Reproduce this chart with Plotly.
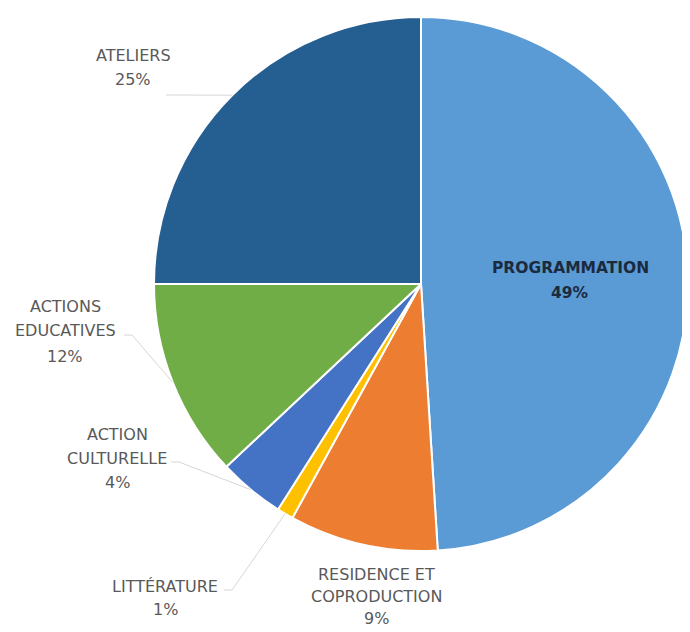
import math
import plotly.graph_objects as go

# ---- data ----
labels = ["PROGRAMMATION", "RESIDENCE ET COPRODUCTION", "LITTÉRATURE",
          "ACTION CULTURELLE", "ACTIONS EDUCATIVES", "ATELIERS"]
label_lines = [["PROGRAMMATION"], ["RESIDENCE ET", "COPRODUCTION"], ["LITTÉRATURE"],
               ["ACTION", "CULTURELLE"], ["ACTIONS", "EDUCATIVES"], ["ATELIERS"]]
values = [49, 9, 1, 4, 12, 25]

# ---- style / layout ----
colors = ["#5B9BD5", "#ED7D31", "#FFC000", "#4472C4", "#70AD47", "#255E91"]
W, H = 690, 632
OFF = 8  # page body margin offset


def px2paper(x, y):
    return (x - OFF) / W, 1 - (y - OFF) / H


# pie box in screen pixels
pie_left, pie_right, pie_top, pie_bottom = 154, 688, 17, 551
x0, y1 = px2paper(pie_left, pie_top)
x1, y0 = px2paper(pie_right, pie_bottom)
dom_x = [x0, x1]
dom_y = [y0, y1]

# label anchor (pixel) positions: centre x, first-line y, line gap
label_pos = [(570, 268, 25), (376, 574, 22), (165, 586, 23),
             (117, 434, 24), (65, 306, 25), (133, 56, 23)]
# leader-line start points (pixels) ; None = no leader
leader_start = [None, None, (224, 590), (171, 462), (124, 335), (166, 95)]
text_colors = ["#1c2a3e", "#595959", "#595959", "#595959", "#595959", "#595959"]
text_weights = ["bold", "normal", "normal", "normal", "normal", "normal"]
text_sizes = [15.5, 16, 16, 16, 16, 16]

fig = go.Figure(go.Pie(
    labels=labels, values=values, sort=False, direction="clockwise", rotation=0,
    marker=dict(colors=colors, line=dict(color="white", width=2)),
    textinfo="none", hoverinfo="label+percent",
    domain=dict(x=dom_x, y=dom_y), showlegend=False,
))

# pie geometry in screen pixels
cx = (pie_left + pie_right) / 2
cy = (pie_top + pie_bottom) / 2
r = min(pie_right - pie_left, pie_bottom - pie_top) / 2

total = sum(values)
annotations = []
shapes = []
cum = 0
for i, v in enumerate(values):
    mid = (cum + v / 2) / total
    cum += v
    theta = 2 * math.pi * mid
    tip = (cx + r * math.sin(theta), cy - r * math.cos(theta))
    lx, ly, gap = label_pos[i]
    pct = round(100 * v / total)
    lines = label_lines[i] + [f"{pct}%"]
    for j, t in enumerate(lines):
        xp, yp = px2paper(lx, ly + j * gap)
        annotations.append(dict(x=xp, y=yp, xref="paper", yref="paper", text=t,
                                showarrow=False, xanchor="center", yanchor="middle",
                                font=dict(family="DejaVu Sans", size=text_sizes[i],
                                          color=text_colors[i], weight=text_weights[i])))
    if leader_start[i] is not None:
        sx, sy = leader_start[i]
        ex = sx + (8 if tip[0] > sx else -8)
        p0 = px2paper(sx, sy)
        p1 = px2paper(ex, sy)
        p2 = px2paper(*tip)
        shapes.append(dict(type="path", xref="paper", yref="paper",
                           path=f"M {p0[0]},{p0[1]} L {p1[0]},{p1[1]} L {p2[0]},{p2[1]}",
                           line=dict(color="#d6d6d6", width=1)))

fig.update_layout(
    width=W, height=H, margin=dict(l=0, r=0, t=0, b=0),
    paper_bgcolor="white", plot_bgcolor="white",
    annotations=annotations, shapes=shapes,
)

fig.write_html("out.html")
